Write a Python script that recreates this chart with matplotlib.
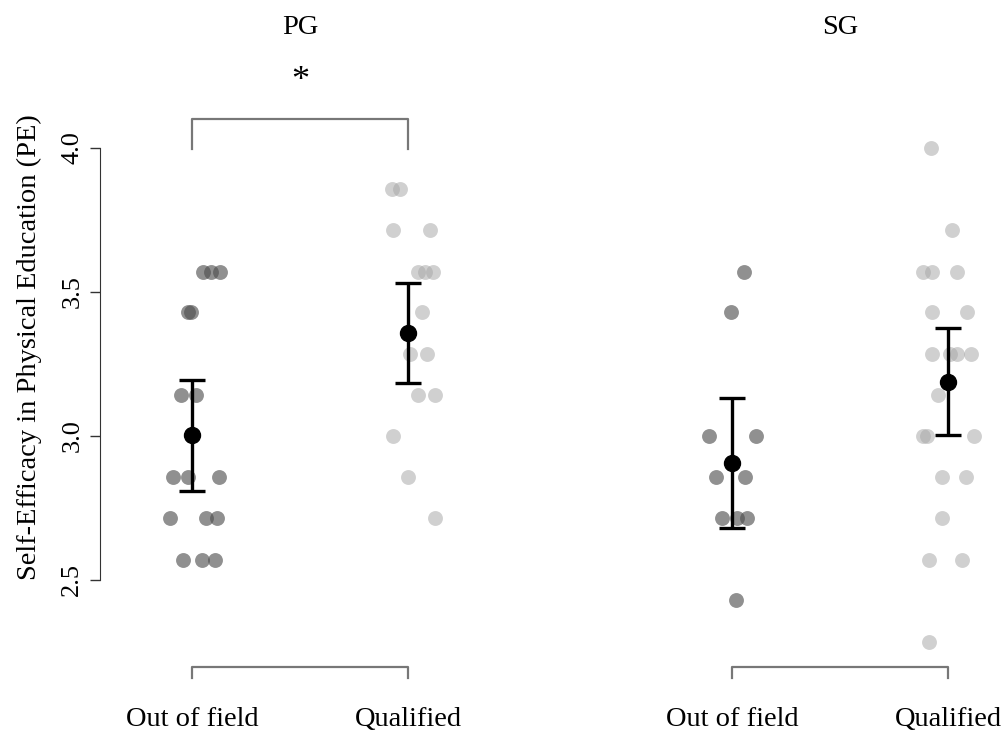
import matplotlib
matplotlib.use("Agg")
from matplotlib import pyplot as plt

plt.rcParams['font.family'] = ['Liberation Serif', 'DejaVu Serif']

# group order: PG out of field, PG qualified, SG out of field, SG qualified
groups = ["Out of field", "Qualified", "Out of field", "Qualified"]
panels = ["PG", "SG"]

# individual scores (mean of 7 items) and the horizontal jitter
pg_out = [3.571, 3.571, 3.571, 3.429, 3.429, 3.143, 3.143, 2.857, 2.857, 2.857,
          2.714, 2.714, 2.714, 2.571, 2.571, 2.571]
pg_out_jit = [0.05, 0.09, 0.13, -0.02, -0.005, -0.05, 0.02, -0.09, -0.02, 0.125,
              -0.10, 0.065, 0.115, -0.04, 0.045, 0.105]

pg_qual = [3.857, 3.857, 3.714, 3.714, 3.571, 3.571, 3.571, 3.429, 3.286, 3.286,
           3.143, 3.143, 3.0, 2.857, 2.714]
pg_qual_jit = [-0.075, -0.035, -0.07, 0.10, 0.045, 0.08, 0.115, 0.065, 0.01, 0.09,
               0.045, 0.125, -0.07, 0.0, 0.125]

sg_out = [3.571, 3.429, 3.0, 3.0, 2.857, 2.857, 2.714, 2.714, 2.714, 2.429]
sg_out_jit = [0.055, -0.005, -0.105, 0.11, -0.075, 0.06, -0.045, 0.025, 0.07, 0.02]

sg_qual = [4.0, 3.714, 3.571, 3.571, 3.571, 3.429, 3.429, 3.286, 3.286, 3.286, 3.286,
           3.143, 3.0, 3.0, 3.0, 2.857, 2.857, 2.714, 2.571, 2.571, 2.286]
sg_qual_jit = [-0.08, 0.02, -0.115, -0.075, 0.04, -0.075, 0.09, -0.075, 0.01, 0.04, 0.105,
               -0.045, -0.115, -0.095, 0.12, -0.03, 0.085, -0.03, -0.09, 0.065, -0.09]

# means with 95% CI
means = [3.003, 3.358, 2.906, 3.188]
ci_lo = [2.809, 3.184, 2.681, 3.003]
ci_hi = [3.194, 3.531, 3.132, 3.375]

xpos = [1, 2, 3.5, 4.5]
W, H = 1004, 736

fig = plt.figure(figsize=(W/100, H/100), dpi=100)
# axes box in pixels: x 100..1000, y 100..700
ax = fig.add_axes([100/W, 36/H, 900/W, 600/H])
ax.set_xlim(1 - 92/216, 4.5 + 52/216)
ax.set_ylim(2.5 - 120/288, 4.0 + 48/288)

series = [(pg_out, pg_out_jit), (pg_qual, pg_qual_jit), (sg_out, sg_out_jit), (sg_qual, sg_qual_jit)]
cols = [('#4d4d4d', 0.62), ('#a6a6a6', 0.52), ('#4d4d4d', 0.62), ('#a6a6a6', 0.52)]
for i, (vals, jit) in enumerate(series):
    xs = [xpos[i] + j for j in jit]
    ax.scatter(xs, vals, s=115, color=cols[i][0], alpha=cols[i][1], linewidths=0, zorder=2)

for i in range(4):
    ax.errorbar(xpos[i], means[i], yerr=[[means[i]-ci_lo[i]], [ci_hi[i]-means[i]]],
                fmt='o', color='black', ms=11.5, elinewidth=2.4, capsize=9.5, capthick=2.4, zorder=3)

# y axis R-style
for s in ['top', 'right', 'bottom']:
    ax.spines[s].set_visible(False)
ax.spines['left'].set_bounds(2.5, 4.0)
ax.spines['left'].set_color('#333333')
ax.set_yticks([2.5, 3.0, 3.5, 4.0])
ax.set_yticklabels(['2.5', '3.0', '3.5', '4.0'], rotation=90, va='center')
ax.tick_params(axis='y', length=7, width=1, colors='#333333', labelcolor='black',
               labelsize=19, pad=5)
ax.set_xticks([])

fig.text(29/W, 1 - 347/H, "Self-Efficacy in Physical Education (PE)", rotation=90,
         ha='center', va='center', fontsize=20.5)

# group labels and panel titles
for i in range(4):
    ax.text(xpos[i], 2.0139, groups[i], ha='center', va='center', fontsize=20.5, clip_on=False)
ax.text(1.5, 4.42, panels[0], ha='center', va='center', fontsize=20.5, clip_on=False)
ax.text(4.0, 4.42, panels[1], ha='center', va='center', fontsize=20.5, clip_on=False)

# bottom brackets
bc = '#777777'
for a, b in [(1, 2), (3.5, 4.5)]:
    ax.plot([a, a, b, b], [2.16, 2.198, 2.198, 2.16], color=bc, lw=1.6, clip_on=False)

# significance bracket
ax.plot([1, 1, 2, 2], [3.997, 4.101, 4.101, 3.997], color=bc, lw=1.6, clip_on=False)
ax.text(1.5, 4.23, "*", ha='center', va='center', fontsize=26, clip_on=False)

plt.savefig("out.png", dpi=100)
